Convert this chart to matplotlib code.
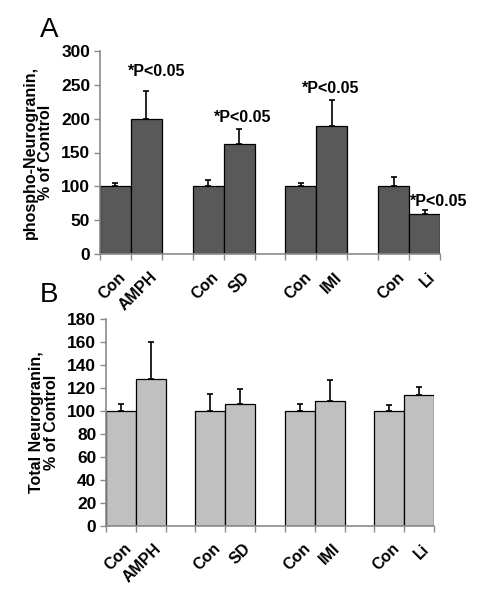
import matplotlib
matplotlib.use("Agg")
import matplotlib.pyplot as plt
from matplotlib.transforms import ScaledTranslation

plt.rcParams['font.family'] = ['Liberation Sans', 'DejaVu Sans']

# ---- data ----
labels = ["Con", "AMPH", "Con", "SD", "Con", "IMI", "Con", "Li"]
slots = [0, 1, 3, 4, 6, 7, 9, 10]          # category slot of each bar (gap slot between groups)

phospho_mean = [100, 199, 100, 162, 100, 189, 100, 59]
phospho_err = [5, 42, 9, 22, 5, 38, 14, 5.5]

total_mean = [100, 128, 100, 106, 100, 109, 100, 114]
total_err = [6, 32, 15, 13.5, 6, 18, 5.5, 7.3]

sig_text = "*P<0.05"
sig_x = [1.82, 4.63, 7.45, 10.95]
sig_y = [269, 202, 244, 77]

A_ticks = [0, 50, 100, 150, 200, 250, 300]
B_ticks = [0, 20, 40, 60, 80, 100, 120, 140, 160, 180]

W, H = 481, 600
fig = plt.figure(figsize=(W / 100, H / 100), dpi=100)

axA = fig.add_axes([100 / W, (H - 254) / H, 340 / W, 203 / H])
axB = fig.add_axes([106 / W, (H - 525.7) / H, 328 / W, 206.4 / H])

AXC = "#8a8a8a"


def style(ax, means, errs, color, ymax, yticks, ylabel):
    ax.bar(slots, means, width=1.0, align="edge", color=color,
           edgecolor="black", linewidth=0.9, zorder=2)
    centers = [s + 0.5 for s in slots]
    ax.errorbar(centers, means, yerr=[[0] * len(errs), errs], fmt="none",
                ecolor="black", elinewidth=1.2, capsize=2.5, capthick=1.2, zorder=3)
    ax.set_xlim(0, 11)
    ax.set_ylim(0, ymax)
    ax.set_yticks(yticks)
    ax.set_yticklabels([str(t) for t in yticks], fontsize=12.5, fontweight="bold")
    ax.set_xticks(range(0, 12))
    ax.set_xticklabels([])
    ax.set_xticks(centers, minor=True)
    ax.set_xticklabels(labels, minor=True, rotation=45, ha="right",
                       rotation_mode="anchor", fontsize=11.5, fontweight="bold")
    ax.tick_params(axis="x", which="minor", length=0, pad=11)
    ax.tick_params(axis="x", which="major", length=4, color=AXC, width=1, direction="out")
    ax.tick_params(axis="y", length=4, color=AXC, width=1, direction="out", pad=3)
    offset = ScaledTranslation(2 / 72, 0, fig.dpi_scale_trans)
    for lbl in ax.get_xticklabels(minor=True):
        lbl.set_transform(lbl.get_transform() + offset)
    for s in ["top", "right"]:
        ax.spines[s].set_visible(False)
    for s in ["left", "bottom"]:
        ax.spines[s].set_color(AXC)
        ax.spines[s].set_linewidth(1.2)
    ax.set_ylabel(ylabel, fontsize=11.5, fontweight="bold", linespacing=1.0, labelpad=6)


style(axA, phospho_mean, phospho_err, "#595959", 300, A_ticks,
      "phospho-Neurogranin,\n% of Control")
style(axB, total_mean, total_err, "#c0c0c0", 180, B_ticks,
      "Total Neurogranin,\n% of Control")

for x, y in zip(sig_x, sig_y):
    axA.text(x, y, sig_text, ha="center", va="center", fontsize=11.5,
             fontweight="bold", clip_on=False)

fig.text(40 / W, (H - 37) / H, "A", fontsize=20, ha="left", va="baseline")
fig.text(40 / W, (H - 302) / H, "B", fontsize=20, ha="left", va="baseline")

fig.savefig("out.png", dpi=100)
